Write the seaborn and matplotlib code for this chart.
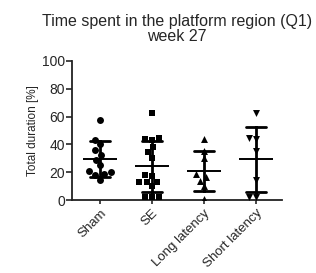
import numpy as np
import pandas as pd
import matplotlib
matplotlib.use("Agg")
import matplotlib.pyplot as plt
import seaborn as sns

# ─── Data ─────────────────────────────────────────────────────────────────────
CATEGORIES = ["Sham", "SE", "Long latency", "Short latency"]
MARKERS = ["o", "s", "^", "v"]

sham = [57.8, 43.2, 40.0, 36.0, 32.7, 29.0, 25.0, 21.0, 20.0, 19.0, 18.3, 14.6]
se = [62.7, 44.9, 43.9, 43.4, 37.8, 34.6, 30.5, 18.3, 17.6, 13.2, 13.2, 13.2,
      9.8, 2.4, 2.4, 2.4]
long_latency = [44.0, 35.0, 30.0, 18.5, 16.5, 14.0, 10.0, 0.7]
short_latency = [62.7, 44.6, 44.0, 35.5, 14.5, 2.0, 2.5]

groups = [sham, se, long_latency, short_latency]
df = pd.concat(
    [pd.DataFrame({"group": cat, "duration": vals}) for cat, vals in zip(CATEGORIES, groups)],
    ignore_index=True,
)

# ─── Style ────────────────────────────────────────────────────────────────────
sns.set_style("ticks")
plt.rcParams["font.family"] = ["Liberation Sans", "DejaVu Sans"]
plt.rcParams["axes.linewidth"] = 1.3

fig = plt.figure(figsize=(3.16, 2.73), dpi=100)
ax = fig.add_axes([0.228, 0.267, 0.664, 0.510])

# ─── Scatter columns ──────────────────────────────────────────────────────────
for cat, marker in zip(CATEGORIES, MARKERS):
    sns.swarmplot(data=df[df["group"] == cat], x="group", y="duration",
                  order=CATEGORIES, marker=marker, color="black", size=5,
                  ax=ax, zorder=3)

# ─── Mean ± SD ────────────────────────────────────────────────────────────────
sns.pointplot(data=df, x="group", y="duration", order=CATEGORIES,
              estimator="mean", errorbar="sd", capsize=0.38,
              linestyle="none", markers="_", markersize=25,
              markeredgewidth=1.4, color="black",
              err_kws={"linewidth": 2.0}, ax=ax, zorder=4)

# ─── Axes ─────────────────────────────────────────────────────────────────────
ax.set_xlim(-0.54, 3.5)
ax.set_ylim(0, 100)
ax.set_yticks([0, 20, 40, 60, 80, 100])
ax.set_xlabel("")
ax.set_ylabel("Total duration [%]", fontsize=8.5, labelpad=2)
ax.tick_params(axis="y", labelsize=10, length=4, width=1.2, pad=1)
ax.tick_params(axis="x", labelsize=9.5, length=3, width=1.2, pad=2)
plt.setp(ax.get_xticklabels(), rotation=45, ha="right", rotation_mode="anchor")
sns.despine(ax=ax)
for s in ["left", "bottom"]:
    ax.spines[s].set_color("#222222")

ax.set_title("Time spent in the platform region (Q1)\nweek 27",
             fontsize=11.5, pad=14, linespacing=1.05)

plt.savefig("out.png", dpi=100)
plt.close()
